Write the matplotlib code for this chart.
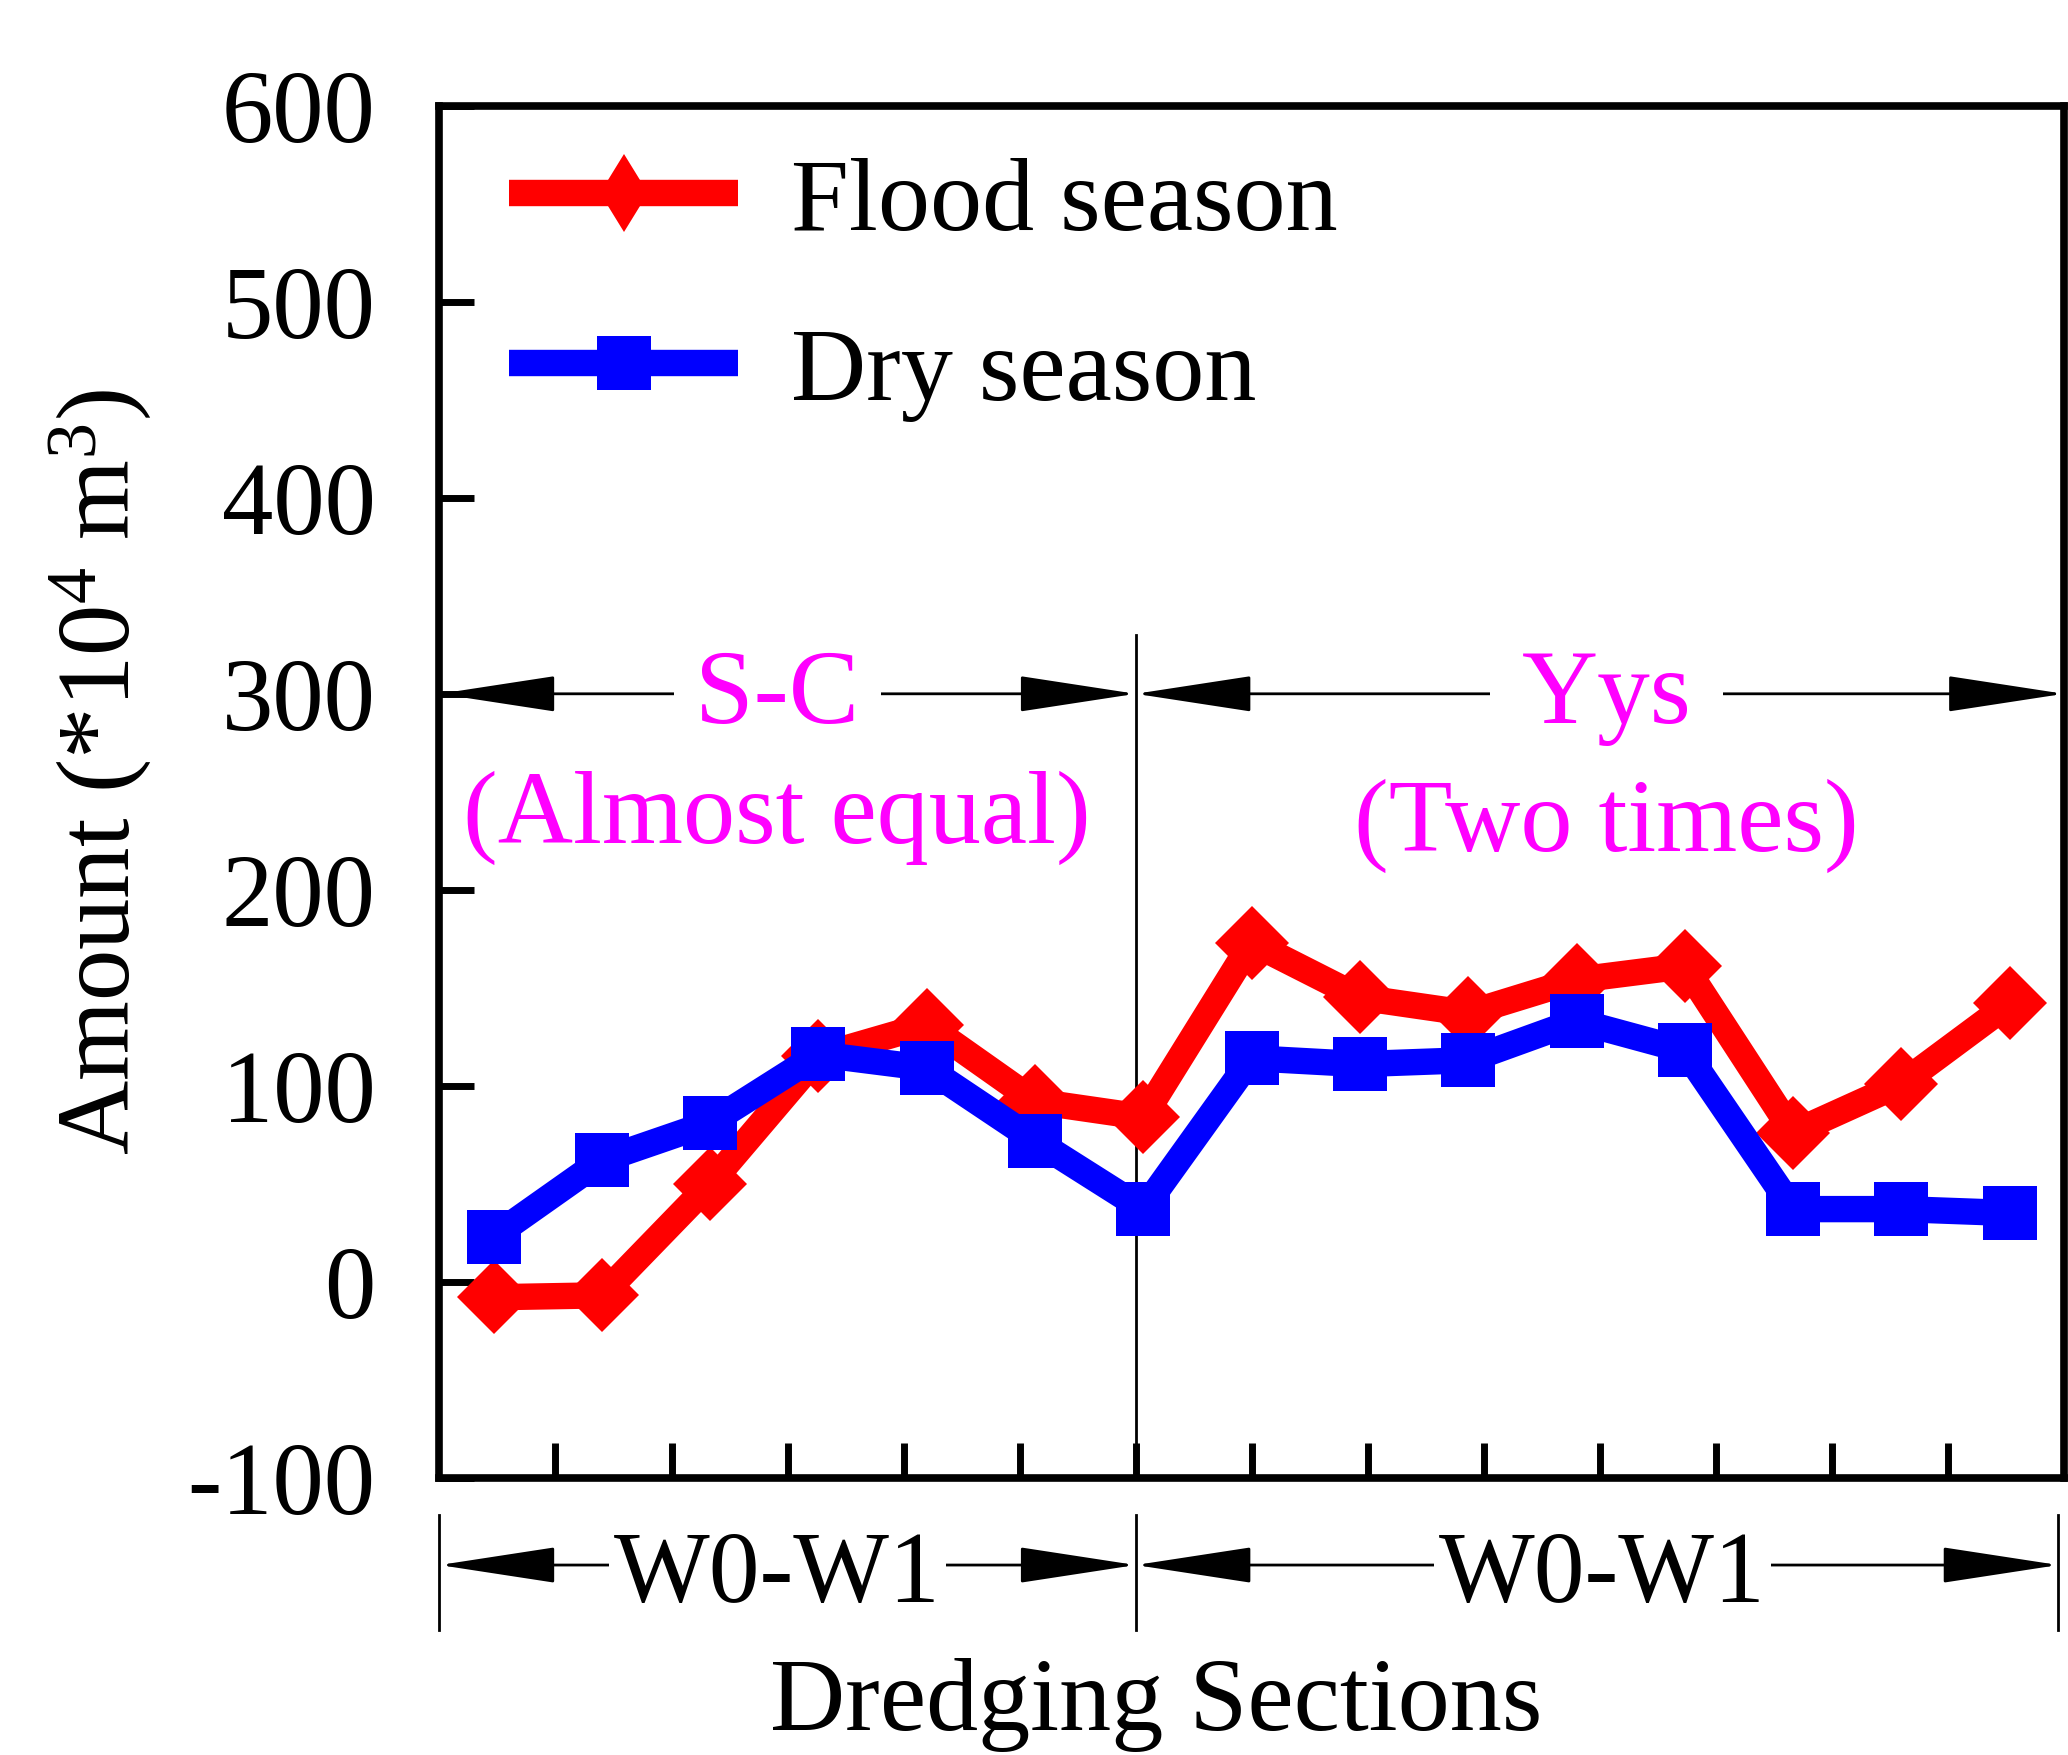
import matplotlib
matplotlib.use("Agg")
import matplotlib.pyplot as plt
from matplotlib.lines import Line2D
from matplotlib.transforms import blended_transform_factory
import numpy as np

# fonts: Times-like serif everywhere
plt.rcParams['font.family'] = ['Liberation Serif', 'DejaVu Serif']
plt.rcParams['mathtext.fontset'] = 'custom'
plt.rcParams['mathtext.rm'] = 'Liberation Serif'
plt.rcParams['mathtext.it'] = 'Liberation Serif:italic'
plt.rcParams['axes.unicode_minus'] = False

# data
sections = list(range(1, 16))
flood = [-8, -7, 50, 115, 131, 92, 84, 173, 145, 137, 154, 161, 76, 101, 142]
dry = [23, 62, 81, 116, 109, 72, 37, 114, 111, 113, 133, 118, 37, 37, 35]
y_ticks = [-100, 0, 100, 200, 300, 400, 500, 600]
series_names = ['Flood season', 'Dry season']
group_names = ['S-C', 'Yys']
group_notes = ['(Almost equal)', '(Two times)']
reach_names = ['W0-W1', 'W0-W1']

fig = plt.figure(figsize=(20.68, 17.55), dpi=100)
ax = fig.add_axes([0.2125, 0.1581, 0.7855, 0.7815])

ax.plot(sections, flood, color='red', lw=19, marker='D', ms=37.5, mew=0, zorder=3)
ax.plot(sections, dry, color='blue', lw=19, marker='s', ms=39.5, mew=0, zorder=4)

ax.set_xlim(0.5, 15.5)
ax.set_ylim(-100, 600)
xt = np.linspace(0.5, 15.5, 15)[1:-1]
ax.set_xticks(xt)
ax.set_xticklabels([])
ax.set_yticks(y_ticks)
ax.tick_params(direction='in', length=25, width=5, top=False, right=False)
ax.tick_params(axis='y', labelsize=74, pad=46)
for s in ax.spines.values():
    s.set_linewidth(5.5)

# divider between the two reaches
split = xt[5]
ax.plot([split, split], [-100, 330], color='black', lw=2, zorder=2)

arrow = dict(arrowstyle='<|-|>,head_length=75,head_width=11.5', mutation_scale=1,
             lw=2, color='black', shrinkA=0, shrinkB=0)
spans = [(0.5, split), (split, 15.5)]
text_x = [3.62, 11.28]
pads = [0.2, 0.3]
note_y = [224, 220]

# top: group names with double arrows
for (a, b), tx, name, note, pd_, ny in zip(spans, text_x, group_names, group_notes, pads, note_y):
    ax.annotate('', xy=(a, 300), xytext=(b, 300), arrowprops=arrow, zorder=2)
    ax.text(tx, 285, name, ha='center', va='baseline', color='#FF00FF', fontsize=76,
            bbox=dict(boxstyle='square,pad=%s' % pd_, fc='white', ec='none'), zorder=5)
    ax.text(tx, ny, note, ha='center', va='baseline', color='#FF00FF', fontsize=75, zorder=6)

# bottom: reach labels under the axis
trans = blended_transform_factory(ax.transData, ax.transAxes)
for x in [0.5, split, 15.45]:
    ax.plot([x, x], [-0.0273, -0.1112], color='black', lw=2, transform=trans, clip_on=False)
reach_x = [3.62, 11.24]
for (a, b), tx, name in zip(spans, reach_x, reach_names):
    ax.annotate('', xy=(a, -0.0638), xytext=(min(b, 15.45), -0.0638), xycoords=trans,
                textcoords=trans, arrowprops=arrow, annotation_clip=False)
    ax.text(tx, -0.0908, name, ha='center', va='baseline', fontsize=73, transform=trans,
            bbox=dict(boxstyle='square,pad=0.05', fc='white', ec='none'), zorder=5, clip_on=False)

fig.text(0.559, 0.0143, 'Dredging Sections', ha='center', va='baseline', fontsize=75)
fig.text(0.0485, 0.560, 'Amount (*10$^{\\mathrm{4}}$ m$^{\\mathrm{3}}$)', rotation=90,
         ha='center', va='center', fontsize=74)

# legend
h1 = Line2D([], [], color='red', lw=19, marker='d', ms=40, mew=0, solid_capstyle='butt')
h2 = Line2D([], [], color='blue', lw=19, marker='s', ms=39.5, mew=0, solid_capstyle='butt')
ax.legend([h1, h2], series_names, loc='upper left', bbox_to_anchor=(0.043, 0.963),
          frameon=False, fontsize=75, handlelength=2.2, handletextpad=0.5,
          labelspacing=0.72, borderpad=0, borderaxespad=0)

plt.savefig('out.png', dpi=100)
